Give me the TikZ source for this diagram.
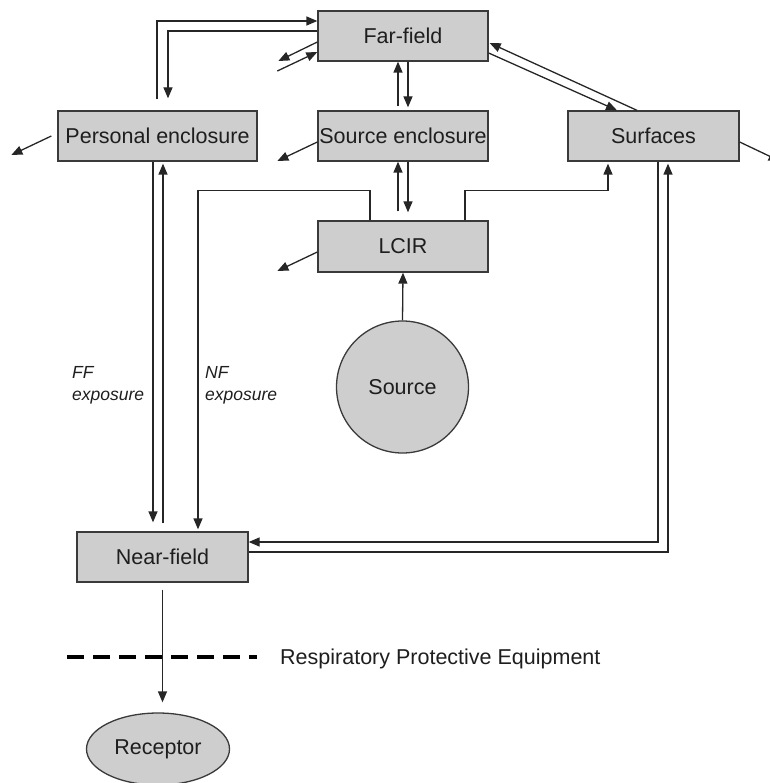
\documentclass[tikz,border=0pt]{standalone}
\usepackage{fontspec}
\setmainfont{Liberation Sans}
\usetikzlibrary{arrows.meta,shapes.geometric}
\definecolor{boxfill}{HTML}{CECECE}
\definecolor{boxline}{HTML}{3A3A3A}
\definecolor{ln}{HTML}{262626}
\definecolor{txt}{HTML}{1E1E1E}
\begin{document}
\begin{tikzpicture}[x=1pt,y=-1pt,
  box/.style={draw=boxline, fill=boxfill, line width=1.3pt, minimum width=#1,
    minimum height=50pt, inner sep=0pt, text=txt, font=\fontsize{21.5}{25}\selectfont},
  roundbox/.style={draw=boxline, fill=boxfill, line width=1.3pt, inner sep=0pt,
    text=txt, font=\fontsize{21.5}{25}\selectfont},
  arr/.style={draw=ln, line width=1.3pt, -{Triangle[length=11pt,width=9pt]}},
  lbl/.style={text=txt, inner sep=0pt, align=left, anchor=north west,
    font=\fontsize{17.5}{22}\selectfont\itshape}]
\useasboundingbox (0,0) rectangle (769,783);

% nodes
\node[box=170pt] (ff) at (403,36) {Far-field};
\node[box=199pt] (pe) at (157.5,136) {Personal enclosure};
\node[box=170pt] (se) at (403,136) {Source enclosure};
\node[box=171pt] (su) at (653.5,136) {Surfaces};
\node[box=170pt, minimum height=51pt] (lc) at (403,246.5) {LCIR};
\node[roundbox, circle, minimum size=132pt] (src) at (402.5,387) {Source};
\node[box=171pt] (nf) at (162.5,557) {Near-field};
\node[roundbox, ellipse, minimum width=143pt, minimum height=72pt] (rc) at (158,749) {Receptor};

% Personal enclosure <-> Far-field
\draw[arr] ([xshift=-0.5pt,yshift=11pt]pe.north) |- ([yshift=15pt]ff.west);
\draw[arr] ([yshift=5pt]ff.west) -| ([xshift=10.5pt,yshift=12pt]pe.north);

% Far-field side exchange
\draw[arr] ([yshift=-6pt]ff.west) -- ++(-39,19);
\draw[arr] ([xshift=-40pt,yshift=-35pt]ff.west) -- ([yshift=-16pt]ff.west);

% Far-field <-> Source enclosure
\draw[arr] ([xshift=-5pt,yshift=4pt]se.north) -- ([xshift=-5pt]ff.south);
\draw[arr] ([xshift=5pt]ff.south) -- ([xshift=5pt,yshift=3pt]se.north);

% outgoing losses
\draw[arr] ([xshift=-6pt]pe.west) -- ++(-40,19);
\draw[arr] ([yshift=-6pt]se.west) -- ++(-40,19);
\draw[arr] ([yshift=-5.5pt]lc.west) -- ++(-40,19);
\draw[arr] ([yshift=-6pt]su.east) -- ++(40,19);

% Source enclosure <-> LCIR
\draw[arr] ([xshift=-5pt,yshift=9pt]lc.north) -- ([xshift=-5pt]se.south);
\draw[arr] ([xshift=5pt]se.south) -- ([xshift=5pt,yshift=8pt]lc.north);

% LCIR -> Near-field and LCIR -> Surfaces
\draw[arr] ([xshift=-33pt]lc.north) -- ++(0,-30) -| ([xshift=35.5pt,yshift=2pt]nf.north);
\draw[arr] ([xshift=62pt]lc.north) -- ++(0,-30) -| ([xshift=-45.5pt,yshift=-2pt]su.south);

% Surfaces <-> Near-field
\draw[arr] ([xshift=4.5pt]su.south) |- ([yshift=15pt]nf.east);
\draw[arr] ([yshift=5pt]nf.east) -| ([xshift=14.5pt,yshift=-2pt]su.south);

% Personal enclosure <-> Near-field
\draw[arr] ([xshift=-4.5pt]pe.south) -- ([xshift=-9.5pt,yshift=9pt]nf.north);
\draw[arr] ([xshift=0.5pt,yshift=8pt]nf.north) -- ([xshift=5.5pt,yshift=-2pt]pe.south);

% Far-field <-> Surfaces
\draw[arr] ([xshift=-16.5pt]su.north) -- ([xshift=1pt,yshift=-7pt]ff.east);
\draw[arr] ([yshift=-17pt]ff.east) -- ([xshift=-36.5pt]su.north);

% Source -> LCIR
\draw[arr] (src.north) -- (lc.south);

% Near-field -> Receptor
\draw[arr] ([yshift=-7pt]nf.south) -- ([xshift=4.5pt,yshift=10pt]rc.north);

% RPE line
\coordinate (rpeA) at (67,657);
\coordinate (rpeB) at (257,657);
\draw[draw=black, line width=3.8pt, dash pattern=on 17pt off 9pt] (rpeA) -- (rpeB);
\node[anchor=base west, inner sep=0pt, text=txt, font=\fontsize{21.5}{25}\selectfont] (rpe) at (280,664.5) {Respiratory Protective Equipment};

% exposure labels
\node[lbl] (ffl) at (72,366.5) {FF\\exposure};
\node[lbl] (nfl) at (205,366.5) {NF\\exposure};
\end{tikzpicture}
\end{document}
